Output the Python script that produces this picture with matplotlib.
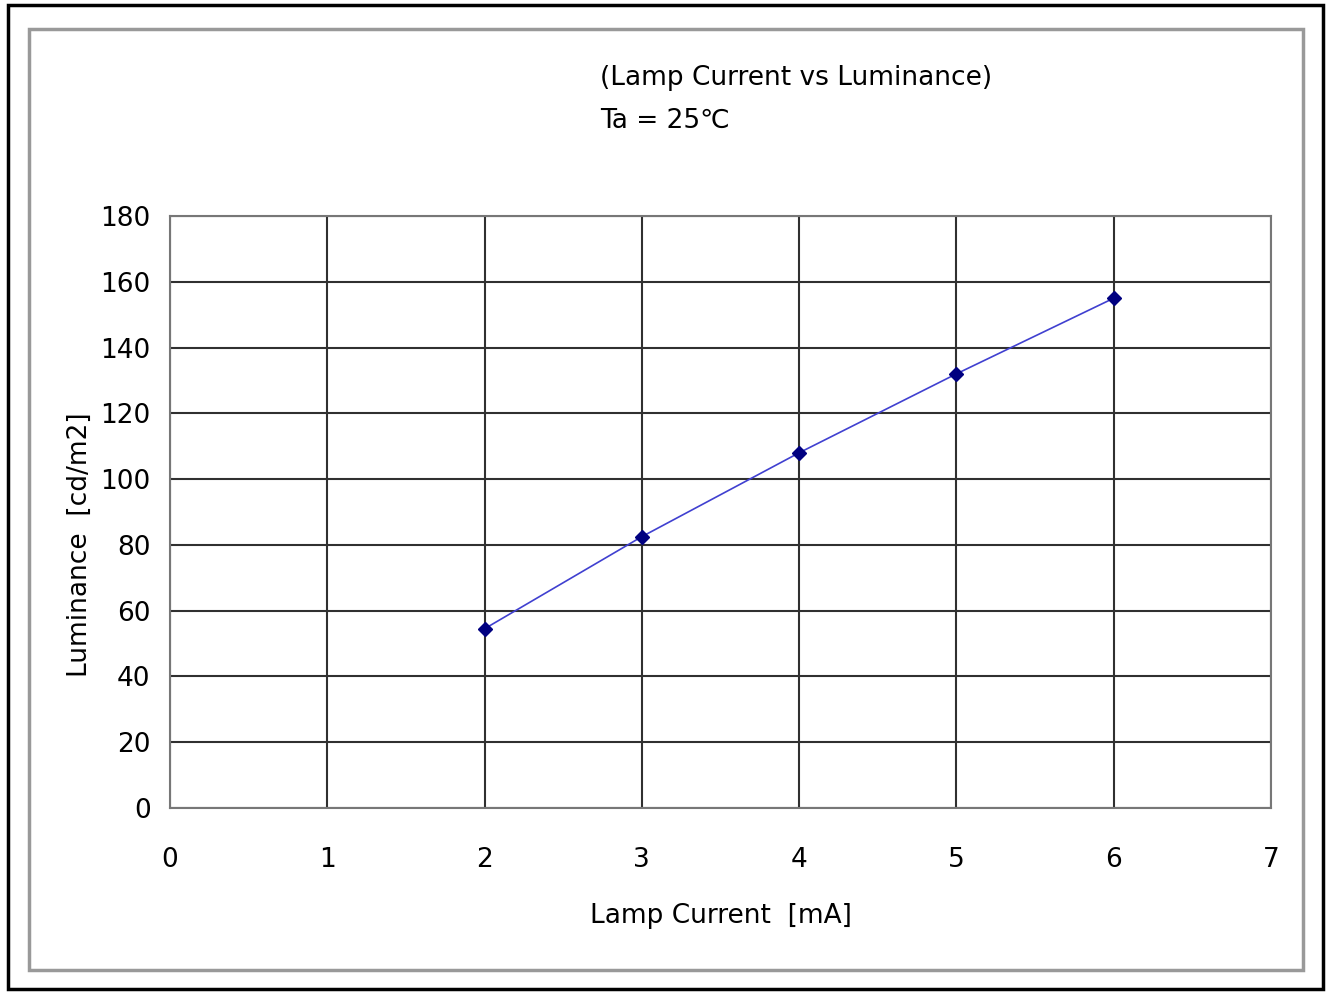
import matplotlib.pyplot as plt
from matplotlib.patches import Rectangle

# data
current = [2, 3, 4, 5, 6]
luminance = [54.5, 82.5, 108, 132, 155]
x_ticks = [0, 1, 2, 3, 4, 5, 6, 7]
y_ticks = [0, 20, 40, 60, 80, 100, 120, 140, 160, 180]

plt.rcParams['font.family'] = ['DejaVu Sans']

fig = plt.figure(figsize=(13.3, 9.94), dpi=100)

# outer frames
fig.patches.append(Rectangle((0.006, 0.005), 0.989, 0.99, transform=fig.transFigure,
                             fill=False, edgecolor='black', linewidth=2.5))
fig.patches.append(Rectangle((0.022, 0.024), 0.958, 0.947, transform=fig.transFigure,
                             fill=False, edgecolor='#999999', linewidth=2.5))

ax = fig.add_axes([0.1278, 0.1871, 0.8278, 0.5956])
ax.plot(current, luminance, color='#4040d0', linewidth=1.2, marker='D',
        markersize=7, markerfacecolor='#000080', markeredgecolor='#000080', zorder=3)

ax.set_xlim(0, 7)
ax.set_ylim(0, 180)
ax.set_xticks(x_ticks)
ax.set_yticks(y_ticks)
ax.grid(True, color='#303030', linewidth=1.5)
ax.tick_params(length=0, labelsize=19, pad=14)
ax.tick_params(axis='x', pad=28)
for s in ax.spines.values():
    s.set_color('#777777')
    s.set_linewidth(1.5)

ax.set_xlabel('Lamp Current  [mA]', fontsize=19)
ax.set_ylabel('Luminance  [cd/m2]', fontsize=19)
ax.xaxis.set_label_coords(0.5, -0.16)
ax.yaxis.set_label_coords(-0.07, 0.445)

fig.text(0.451, 0.922, '(Lamp Current vs Luminance)', fontsize=19, va='center')
fig.text(0.451, 0.878, 'Ta = 25\u2103', fontsize=19, va='center')

plt.savefig('out.png', dpi=100)
